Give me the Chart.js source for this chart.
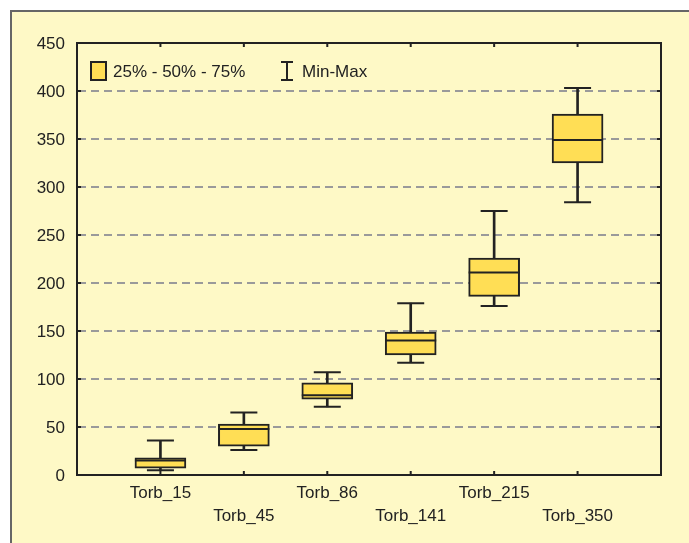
<!DOCTYPE html>
<html>
<head>
<meta charset="utf-8">
<script src="https://cdn.jsdelivr.net/npm/chart.js@4/dist/chart.umd.min.js"></script>
<style>
  html, body { margin: 0; padding: 0; background: #ffffff; overflow: hidden; }
  #frame { position: absolute; left: 10px; top: 10px; width: 700px; height: 560px;
    border-top: 2px solid #666666; border-left: 2px solid #666666; background: #fef9c6; }
  #wrap { position: absolute; left: 0; top: 0; width: 689px; height: 543px; }
</style>
</head>
<body>
<div id="frame"></div>
<div id="wrap"><canvas id="chart"></canvas></div>
<script>
const categories = ["Torb_15", "Torb_45", "Torb_86", "Torb_141", "Torb_215", "Torb_350"]
const minVals = [5, 26, 71, 117, 176, 284]
const q1Vals = [7, 30, 79, 125, 186, 325]
const medVals = [15, 48, 83, 140, 211, 349]
const q3Vals = [18, 53, 96, 149, 226, 376]
const maxVals = [36, 65, 107, 179, 275, 403]
const yTicks = [0, 50, 100, 150, 200, 250, 300, 350, 400, 450]
const legendLabels = ["25% - 50% - 75%", "Min-Max"]

const ink = "#222222"
const boxFill = "#ffde55"
const font = { family: "'Liberation Sans', Arial, sans-serif", size: 17, lineHeight: 1.33 }

// empty slot on each side so the boxes sit one full step from the frame
const labels = ["", ...categories, ""]
const pad = arr => [null, ...arr, null]

const whiskers = pad(categories.map((c, i) => [minVals[i], maxVals[i]]))
const boxes = pad(categories.map((c, i) => [q1Vals[i], q3Vals[i]]))

const pointLine = (data, radius) => ({
  type: "line",
  data: pad(data),
  showLine: false,
  pointStyle: "line",
  pointRadius: radius,
  pointHoverRadius: radius,
  pointBorderWidth: 2,
  pointBorderColor: ink,
  borderColor: ink,
  order: 0
})

//Frame, inward ticks and legend
const framePlugin = {
  id: "frameTicks",
  afterDraw(chart) {
    const { ctx, chartArea: a, scales } = chart
    ctx.save()
    ctx.strokeStyle = ink
    ctx.lineWidth = 2
    ctx.beginPath()
    ctx.moveTo(a.left, a.top)
    ctx.lineTo(a.right, a.top)
    ctx.lineTo(a.right, a.bottom)
    ctx.stroke()

    ctx.beginPath()
    yTicks.forEach(v => {
      const y = scales.y.getPixelForValue(v)
      ctx.moveTo(a.left, y); ctx.lineTo(a.left + 4, y)
      ctx.moveTo(a.right, y); ctx.lineTo(a.right - 4, y)
    })
    categories.forEach((c, i) => {
      const x = scales.x.getPixelForValue(i + 1)
      ctx.moveTo(x, a.bottom); ctx.lineTo(x, a.bottom - 4)
      ctx.moveTo(x, a.top); ctx.lineTo(x, a.top + 4)
    })
    ctx.stroke()

    // legend
    const lx = a.left + 14, ly = a.top + 19
    ctx.fillStyle = boxFill
    ctx.fillRect(lx, ly, 15, 18)
    ctx.strokeRect(lx, ly, 15, 18)
    ctx.font = `${font.size}px ${font.family}`
    ctx.fillStyle = ink
    ctx.textBaseline = "middle"
    ctx.fillText(legendLabels[0], lx + 22, ly + 10)

    const ix = a.left + 210
    ctx.beginPath()
    ctx.moveTo(ix - 6, ly); ctx.lineTo(ix + 6, ly)
    ctx.moveTo(ix, ly); ctx.lineTo(ix, ly + 18)
    ctx.moveTo(ix - 6, ly + 18); ctx.lineTo(ix + 6, ly + 18)
    ctx.stroke()
    ctx.fillText(legendLabels[1], ix + 15, ly + 10)
    ctx.restore()
  }
}

new Chart(document.getElementById("chart"), {
  type: "bar",
  data: {
    labels: labels,
    datasets: [
      {
        data: whiskers,
        backgroundColor: ink,
        borderWidth: 0,
        barThickness: 2,
        grouped: false,
        order: 3
      },
      {
        data: boxes,
        backgroundColor: boxFill,
        borderColor: ink,
        borderWidth: 2,
        borderSkipped: false,
        barThickness: 51,
        grouped: false,
        order: 2
      },
      pointLine(medVals, 25.5),
      pointLine(minVals, 13.5),
      pointLine(maxVals, 13.5)
    ]
  },
  options: {
    responsive: true,
    maintainAspectRatio: false,
    animation: false,
    events: [],
    layout: { padding: { top: 43, right: 28, left: 0, bottom: 0 } },
    plugins: { legend: { display: false }, tooltip: { enabled: false } },
    scales: {
      x: {
        offset: false,
        grid: { display: false, drawTicks: false },
        border: { display: true, color: ink, width: 2 },
        afterFit: scale => { scale.height = 68 },
        ticks: {
          autoSkip: false,
          maxRotation: 0,
          padding: 7,
          color: ink,
          font: font,
          callback: function (value, index) {
            const name = labels[index]
            if (!name) return ""
            return (index - 1) % 2 === 1 ? ["", name] : name
          }
        }
      },
      y: {
        min: 0,
        max: 450,
        afterFit: scale => { scale.width = 77 },
        afterBuildTicks: scale => { scale.ticks = yTicks.map(v => ({ value: v })) },
        grid: {
          drawTicks: false,
          lineWidth: 2,
          color: ctx => (ctx.tick && (ctx.tick.value === 0 || ctx.tick.value === 450)) ? "rgba(0,0,0,0)" : "#9a9a9a"
        },
        border: { display: true, color: ink, width: 2, dash: [8, 5] },
        ticks: { padding: 12, labelOffset: 1, color: ink, font: font }
      }
    }
  },
  plugins: [framePlugin]
})
</script>
</body>
</html>
